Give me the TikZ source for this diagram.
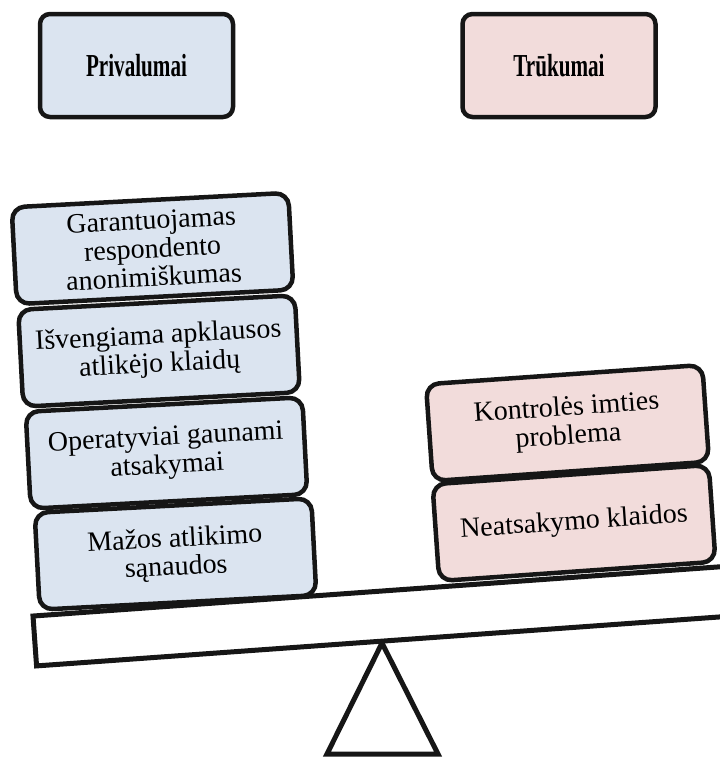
\documentclass[tikz,border=0pt]{standalone}
\usepackage{fontspec}
\setmainfont{Liberation Serif}
\newfontfamily\headfont[FakeStretch=0.66]{Liberation Serif}
\definecolor{problue}{RGB}{219,228,240}
\definecolor{conpink}{RGB}{242,220,219}
\definecolor{ink}{RGB}{22,22,22}
\begin{document}
\begin{tikzpicture}[x=1pt,y=-1pt]
\useasboundingbox (0,0) rectangle (720,758);
\tikzset{
  card/.style={draw=ink, line width=4.5pt, rounded corners=13pt,
    minimum width=277pt, minimum height=97pt, inner sep=0pt, align=center,
    font=\fontsize{28}{28.5}\selectfont},
  pro/.style={card, fill=problue, rotate=3},
  con/.style={card, fill=conpink, rotate=4},
  heading/.style={draw=ink, line width=4.5pt, rounded corners=10pt,
    minimum width=193pt, minimum height=103pt, inner sep=0pt,
    font=\headfont\bfseries\fontsize{32}{34}\selectfont},
  plank/.style={draw=ink, line width=5pt, fill=white, rotate=4.1,
    minimum width=760pt, minimum height=50pt, inner sep=0pt}
}

% headings
\node[heading, fill=problue] (hpro) at (136.5,65.5) {Privalumai};
\node[heading, fill=conpink] (hcon) at (559,65.5) {Trūkumai};

% fulcrum
\coordinate (apex) at (382,643);
\coordinate (bl) at (327,754);
\coordinate (br) at (438,754);
\draw[ink, line width=5pt, line join=miter] (apex) -- (bl) -- (br) -- cycle;

% plank
\node[plank] (beam) at (413.8,613.8) {};

% advantages
\node[pro] (p1) at (152.5,248.5) {Garantuojamas\\respondento\\anonimiškumas};
\node[pro] (p2) at (159,351) {Išvengiama apklausos\\atlikėjo klaidų};
\node[pro] (p3) at (166.5,453) {Operatyviai gaunami\\atsakymai};
\node[pro] (p4) at (175.5,554) {Mažos atlikimo\\sąnaudos};

% disadvantages
\node[con] (c1) at (567.5,423) {Kontrolės imties\\problema};
\node[con] (c2) at (574,523) {Neatsakymo klaidos};
\end{tikzpicture}
\end{document}
